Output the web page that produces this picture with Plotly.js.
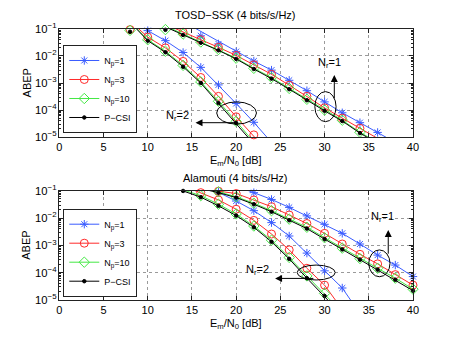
<!DOCTYPE html>
<html>
<head>
<meta charset="utf-8">
<script src="https://cdn.plot.ly/plotly-3.0.1.min.js"></script>
<style>
  body { margin: 0; background: #fff; }
  #myDiv { width: 457px; height: 344px; }
</style>
</head>
<body>
<div id="myDiv"></div>
<script>
// ABEP vs Em/N0 [dB].
// *_sx/*_sy = simulated points (markers), *_ax/*_ay = analytical curve (line)

// ---------- TOSD-SSK, Nr = 2 ----------
var tosd2_np1_sx = [10, 12, 14, 16, 18, 20, 22]
var tosd2_np1_sy = [8.7e-2, 3.7e-2, 1.35e-2, 3.8e-3, 8.5e-4, 1.74e-4, 3.5e-5]
var tosd2_np1_ax = [8, 10, 12, 14, 16, 18, 20, 22, 24]
var tosd2_np1_ay = [3.5e-1, 8.7e-2, 3.7e-2, 1.35e-2, 3.8e-3, 8.5e-4, 1.74e-4, 3.5e-5, 6.3e-6]
var tosd2_np3_sx = [8, 10, 12, 14, 16, 18, 20, 22]
var tosd2_np3_sy = [9.5e-2, 5.0e-2, 2.0e-2, 6.3e-3, 1.6e-3, 3.2e-4, 5.6e-5, 1.2e-5]
var tosd2_np3_ax = [8, 10, 12, 14, 16, 18, 20, 22, 24]
var tosd2_np3_ay = [2.0e-1, 5.0e-2, 2.0e-2, 6.3e-3, 1.6e-3, 3.2e-4, 5.6e-5, 1.2e-5, 2.0e-6]
var tosd2_np10_sx = [8, 10, 12, 14, 16, 18, 20]
var tosd2_np10_sy = [8.9e-2, 4.0e-2, 1.5e-2, 4.5e-3, 1.1e-3, 2.1e-4, 3.8e-5]
var tosd2_np10_ax = [8, 10, 12, 14, 16, 18, 20, 22]
var tosd2_np10_ay = [1.9e-1, 4.0e-2, 1.5e-2, 4.5e-3, 1.1e-3, 2.1e-4, 3.8e-5, 6.5e-6]
var tosd2_pcsi_sx = [8, 10, 12, 14, 16, 18, 20]
var tosd2_pcsi_sy = [7.9e-2, 3.7e-2, 1.38e-2, 4.0e-3, 1.0e-3, 1.8e-4, 3.3e-5]
var tosd2_pcsi_ax = [8, 10, 12, 14, 16, 18, 20, 22]
var tosd2_pcsi_ay = [1.8e-1, 3.7e-2, 1.38e-2, 4.0e-3, 1.0e-3, 1.8e-4, 3.3e-5, 5.5e-6]

// ---------- TOSD-SSK, Nr = 1 ----------
var tosd1_np1_sx = [16, 18, 20, 22, 24, 26, 28, 30, 32, 34, 36]
var tosd1_np1_sy = [5.6e-2, 2.8e-2, 1.45e-2, 6.5e-3, 3.0e-3, 1.26e-3, 5.2e-4, 2.0e-4, 7.9e-5, 3.4e-5, 1.48e-5]
var tosd1_np1_ax = [14, 16, 18, 20, 22, 24, 26, 28, 30, 32, 34, 36, 38]
var tosd1_np1_ay = [1.9e-1, 8.1e-2, 3.5e-2, 1.48e-2, 6.5e-3, 3.0e-3, 1.26e-3, 5.2e-4, 2.0e-4, 7.9e-5, 3.4e-5, 1.48e-5, 6.3e-6]
var tosd1_np3_sx = [14, 16, 18, 20, 22, 24, 26, 28, 30, 32, 34]
var tosd1_np3_sy = [7.6e-2, 4.0e-2, 2.1e-2, 1.05e-2, 4.7e-3, 2.1e-3, 8.3e-4, 3.2e-4, 1.2e-4, 5.0e-5, 2.1e-5]
var tosd1_np3_ax = [12, 14, 16, 18, 20, 22, 24, 26, 28, 30, 32, 34, 36]
var tosd1_np3_ay = [1.5e-1, 7.6e-2, 4.0e-2, 2.1e-2, 1.05e-2, 4.7e-3, 2.1e-3, 8.3e-4, 3.2e-4, 1.2e-4, 5.0e-5, 2.1e-5, 8.9e-6]
var tosd1_np10_sx = [12, 14, 16, 18, 20, 22, 24, 26, 28, 30, 32, 34]
var tosd1_np10_sy = [9.5e-2, 6.5e-2, 3.3e-2, 1.74e-2, 8.3e-3, 3.5e-3, 1.6e-3, 6.3e-4, 2.5e-4, 1.0e-4, 4.2e-5, 1.5e-5]
var tosd1_np10_ax = [12, 14, 16, 18, 20, 22, 24, 26, 28, 30, 32, 34, 36]
var tosd1_np10_ay = [1.3e-1, 6.5e-2, 3.3e-2, 1.74e-2, 8.3e-3, 3.5e-3, 1.6e-3, 6.3e-4, 2.5e-4, 1.0e-4, 4.2e-5, 1.5e-5, 6.3e-6]
var tosd1_pcsi_sx = [12, 14, 16, 18, 20, 22, 24, 26, 28, 30, 32, 34]
var tosd1_pcsi_sy = [9.3e-2, 6.0e-2, 3.1e-2, 1.62e-2, 7.8e-3, 3.3e-3, 1.45e-3, 5.9e-4, 2.3e-4, 9.3e-5, 3.9e-5, 1.4e-5]
var tosd1_pcsi_ax = [12, 14, 16, 18, 20, 22, 24, 26, 28, 30, 32, 34, 36]
var tosd1_pcsi_ay = [1.2e-1, 6.0e-2, 3.1e-2, 1.62e-2, 7.8e-3, 3.3e-3, 1.45e-3, 5.9e-4, 2.3e-4, 9.3e-5, 3.9e-5, 1.4e-5, 5.8e-6]

// ---------- Alamouti, Nr = 2 ----------
var ala2_np1_sx = [18, 20, 22, 24, 26, 28, 30, 32]
var ala2_np1_sy = [8.9e-2, 4.2e-2, 1.86e-2, 6.8e-3, 2.2e-3, 5.2e-4, 1.17e-4, 2.75e-5]
var ala2_np1_ax = [16, 18, 20, 22, 24, 26, 28, 30, 32, 34]
var ala2_np1_ay = [1.8e-1, 8.9e-2, 4.2e-2, 1.86e-2, 6.8e-3, 2.2e-3, 5.2e-4, 1.17e-4, 2.75e-5, 3.2e-6]
var ala2_np3_sx = [16, 18, 20, 22, 24, 26, 28, 30]
var ala2_np3_sy = [8.5e-2, 4.6e-2, 2.1e-2, 8.2e-3, 2.6e-3, 6.8e-4, 1.45e-4, 3.5e-5]
var ala2_np3_ax = [14, 16, 18, 20, 22, 24, 26, 28, 30, 32]
var ala2_np3_ay = [1.5e-1, 8.5e-2, 4.6e-2, 2.1e-2, 8.2e-3, 2.6e-3, 6.8e-4, 1.45e-4, 3.5e-5, 4.5e-6]
var ala2_np10_sx = [16, 18, 20, 22, 24, 26, 28, 30]
var ala2_np10_sy = [6.6e-2, 3.2e-2, 1.41e-2, 5.1e-3, 1.55e-3, 3.6e-4, 7.6e-5, 1.74e-5]
var ala2_np10_ax = [12, 14, 16, 18, 20, 22, 24, 26, 28, 30, 32]
var ala2_np10_ay = [2.0e-1, 1.07e-1, 6.6e-2, 3.2e-2, 1.41e-2, 5.1e-3, 1.55e-3, 3.6e-4, 7.6e-5, 1.74e-5, 3.5e-6]
var ala2_pcsi_sx = [14, 16, 18, 20, 22, 24, 26, 28, 30]
var ala2_pcsi_sy = [9.8e-2, 5.8e-2, 2.8e-2, 1.23e-2, 4.6e-3, 1.35e-3, 3.2e-4, 6.3e-5, 1.4e-5]
var ala2_pcsi_ax = [12, 14, 16, 18, 20, 22, 24, 26, 28, 30, 32]
var ala2_pcsi_ay = [1.9e-1, 9.8e-2, 5.8e-2, 2.8e-2, 1.23e-2, 4.6e-3, 1.35e-3, 3.2e-4, 6.3e-5, 1.4e-5, 2.8e-6]

// ---------- Alamouti, Nr = 1 ----------
var ala1_np1_sx = [22, 24, 26, 28, 30, 32, 34, 36, 38, 40]
var ala1_np1_sy = [8.5e-2, 4.8e-2, 2.45e-2, 1.2e-2, 5.9e-3, 2.75e-3, 1.12e-3, 4.4e-4, 1.9e-4, 7.2e-5]
var ala1_np1_ax = [20, 22, 24, 26, 28, 30, 32, 34, 36, 38, 40]
var ala1_np1_ay = [1.5e-1, 8.5e-2, 4.8e-2, 2.45e-2, 1.2e-2, 5.9e-3, 2.75e-3, 1.12e-3, 4.4e-4, 1.9e-4, 7.2e-5]
var ala1_np3_sx = [18, 20, 22, 24, 26, 28, 30, 32, 34, 36, 38, 40]
var ala1_np3_sy = [9.6e-2, 7.9e-2, 4.6e-2, 2.6e-2, 1.29e-2, 6.3e-3, 2.75e-3, 1.12e-3, 4.7e-4, 2.1e-4, 8.5e-5, 3.5e-5]
var ala1_np3_ax = [16, 18, 20, 22, 24, 26, 28, 30, 32, 34, 36, 38, 40]
var ala1_np3_ay = [1.3e-1, 9.6e-2, 7.9e-2, 4.6e-2, 2.6e-2, 1.29e-2, 6.3e-3, 2.75e-3, 1.12e-3, 4.7e-4, 2.1e-4, 8.5e-5, 3.5e-5]
var ala1_np10_sx = [18, 20, 22, 24, 26, 28, 30, 32, 34, 36, 38, 40]
var ala1_np10_sy = [9.1e-2, 6.0e-2, 3.5e-2, 1.86e-2, 9.1e-3, 4.6e-3, 1.9e-3, 7.9e-4, 3.3e-4, 1.45e-4, 6.3e-5, 2.5e-5]
var ala1_np10_ax = [16, 18, 20, 22, 24, 26, 28, 30, 32, 34, 36, 38, 40]
var ala1_np10_ay = [1.25e-1, 9.1e-2, 6.0e-2, 3.5e-2, 1.86e-2, 9.1e-3, 4.6e-3, 1.9e-3, 7.9e-4, 3.3e-4, 1.45e-4, 6.3e-5, 2.5e-5]
var ala1_pcsi_sx = [18, 20, 22, 24, 26, 28, 30, 32, 34, 36, 38, 40]
var ala1_pcsi_sy = [8.5e-2, 5.6e-2, 3.2e-2, 1.7e-2, 8.3e-3, 4.1e-3, 1.7e-3, 7.1e-4, 3.0e-4, 1.29e-4, 5.5e-5, 2.2e-5]
var ala1_pcsi_ax = [16, 18, 20, 22, 24, 26, 28, 30, 32, 34, 36, 38, 40]
var ala1_pcsi_ay = [1.2e-1, 8.5e-2, 5.6e-2, 3.2e-2, 1.7e-2, 8.3e-3, 4.1e-3, 1.7e-3, 7.1e-4, 3.0e-4, 1.29e-4, 5.5e-5, 2.2e-5]

var legend_names = ['N<sub>p</sub>=1', 'N<sub>p</sub>=3', 'N<sub>p</sub>=10', 'P\u2212CSI']
var titles = ['TOSD\u2212SSK (4 bits/s/Hz)', 'Alamouti (4 bits/s/Hz)']

// styles, one per series
var styles = [
    {color: '#3a5cff', symbol: 'asterisk-open', size: 7},
    {color: '#ff2a2a', symbol: 'circle-open', size: 8},
    {color: '#44e844', symbol: 'diamond-open', size: 8},
    {color: '#000000', symbol: 'circle', size: 3.5}
]

var FONT = 'Liberation Sans, Arial, Helvetica, sans-serif'
var data = []

function addCurve(ax, ay, sx, sy, k, xa, ya) {
    var s = styles[k]
    data.push({
        type: 'scatter', mode: 'lines', x: ax, y: ay,
        xaxis: xa, yaxis: ya, showlegend: false, hoverinfo: 'skip',
        line: {color: s.color, width: 1}
    })
    data.push({
        type: 'scatter', mode: 'markers', x: sx, y: sy,
        xaxis: xa, yaxis: ya, showlegend: false, cliponaxis: false,
        marker: {color: s.color, symbol: s.symbol, size: s.size,
                 line: {color: s.color, width: 1}}
    })
}

function addLegend(k, xa, ya, leg) {
    var s = styles[k]
    data.push({
        type: 'scatter', mode: 'lines+markers', x: [null], y: [null],
        xaxis: xa, yaxis: ya, name: legend_names[k], legend: leg,
        line: {color: s.color, width: 1},
        marker: {color: s.color, symbol: s.symbol, size: s.size,
                 line: {color: s.color, width: 1}}
    })
}

// top panel
addCurve(tosd2_np1_ax, tosd2_np1_ay, tosd2_np1_sx, tosd2_np1_sy, 0, 'x', 'y')
addCurve(tosd2_np3_ax, tosd2_np3_ay, tosd2_np3_sx, tosd2_np3_sy, 1, 'x', 'y')
addCurve(tosd2_np10_ax, tosd2_np10_ay, tosd2_np10_sx, tosd2_np10_sy, 2, 'x', 'y')
addCurve(tosd2_pcsi_ax, tosd2_pcsi_ay, tosd2_pcsi_sx, tosd2_pcsi_sy, 3, 'x', 'y')
addCurve(tosd1_np1_ax, tosd1_np1_ay, tosd1_np1_sx, tosd1_np1_sy, 0, 'x', 'y')
addCurve(tosd1_np3_ax, tosd1_np3_ay, tosd1_np3_sx, tosd1_np3_sy, 1, 'x', 'y')
addCurve(tosd1_np10_ax, tosd1_np10_ay, tosd1_np10_sx, tosd1_np10_sy, 2, 'x', 'y')
addCurve(tosd1_pcsi_ax, tosd1_pcsi_ay, tosd1_pcsi_sx, tosd1_pcsi_sy, 3, 'x', 'y')

// bottom panel
addCurve(ala2_np1_ax, ala2_np1_ay, ala2_np1_sx, ala2_np1_sy, 0, 'x2', 'y2')
addCurve(ala2_np3_ax, ala2_np3_ay, ala2_np3_sx, ala2_np3_sy, 1, 'x2', 'y2')
addCurve(ala2_np10_ax, ala2_np10_ay, ala2_np10_sx, ala2_np10_sy, 2, 'x2', 'y2')
addCurve(ala2_pcsi_ax, ala2_pcsi_ay, ala2_pcsi_sx, ala2_pcsi_sy, 3, 'x2', 'y2')
addCurve(ala1_np1_ax, ala1_np1_ay, ala1_np1_sx, ala1_np1_sy, 0, 'x2', 'y2')
addCurve(ala1_np3_ax, ala1_np3_ay, ala1_np3_sx, ala1_np3_sy, 1, 'x2', 'y2')
addCurve(ala1_np10_ax, ala1_np10_ay, ala1_np10_sx, ala1_np10_sy, 2, 'x2', 'y2')
addCurve(ala1_pcsi_ax, ala1_pcsi_ay, ala1_pcsi_sx, ala1_pcsi_sy, 3, 'x2', 'y2')

for (var k = 0; k < 4; k++) {
    addLegend(k, 'x', 'y', 'legend')
    addLegend(k, 'x2', 'y2', 'legend2')
}

var xdom = [0.1298, 0.9037]

function xAxis(anchor) {
    return {
        domain: xdom, anchor: anchor, range: [0, 40], dtick: 5,
        ticks: 'inside', ticklen: 4, tickcolor: '#222', mirror: 'ticks',
        showline: true, linecolor: '#222', linewidth: 1,
        showgrid: true, gridcolor: '#9a9a9a', griddash: 'dot', gridwidth: 1,
        zeroline: false, tickfont: {size: 11, color: '#000'}, automargin: false
    }
}
function yAxis(anchor, dom) {
    return {
        domain: dom, anchor: anchor, type: 'log', range: [-5, -1], dtick: 1,
        exponentformat: 'power',
        ticks: 'inside', ticklen: 4, tickcolor: '#222', mirror: 'ticks',
        minor: {ticks: 'inside', ticklen: 2, tickcolor: '#222', showgrid: false},
        showline: true, linecolor: '#222', linewidth: 1,
        showgrid: true, gridcolor: '#9a9a9a', griddash: 'dot', gridwidth: 1,
        zeroline: false, tickfont: {size: 9, color: '#000'}, automargin: false
    }
}

// legend boxes: bottom edge pinned where the reference box ends
var legendStyle = function (ybottom) {
    return {
        x: 0.1385, y: ybottom, xanchor: 'left', yanchor: 'bottom',
        bgcolor: '#fff', bordercolor: '#222', borderwidth: 1,
        font: {size: 9, family: FONT}, tracegroupgap: 0, itemwidth: 30
    }
}

function label(text, x, y, xref, yref, size, angle) {
    return {text: text, x: x, y: y, xref: xref, yref: yref, showarrow: false,
            font: {size: size, family: FONT, color: '#000'},
            xanchor: 'center', yanchor: 'middle', textangle: angle || 0}
}
function arrow(x, y, ax, ay, xref, yref) {
    return {text: '', x: x, y: y, ax: ax, ay: ay, xref: xref, yref: yref,
            axref: xref, ayref: yref, showarrow: true, arrowhead: 2,
            arrowsize: 1.4, arrowwidth: 1, arrowcolor: '#000'}
}
function ring(x0, x1, y0, y1, xref, yref) {
    return {type: 'circle', xref: xref, yref: yref, x0: x0, x1: x1, y0: y0, y1: y1,
            line: {color: '#000', width: 1}}
}

var layout = {
    width: 457, height: 344,
    margin: {l: 0, r: 0, t: 0, b: 0},
    paper_bgcolor: '#fff', plot_bgcolor: '#fff',
    font: {family: FONT, size: 11, color: '#000'},
    xaxis: xAxis('y'),
    yaxis: yAxis('x', [0.6017, 0.9157]),
    xaxis2: xAxis('y2'),
    yaxis2: yAxis('x2', [0.1279, 0.4456]),
    legend: legendStyle(0.6134),
    legend2: legendStyle(0.1375),
    shapes: [
        ring(17.8, 22.3, 3.0e-5, 2.0e-4, 'x', 'y'),
        ring(28.9, 31.3, 3.7e-5, 4.8e-4, 'x', 'y'),
        ring(26.9, 31.2, 5.4e-5, 1.9e-4, 'x2', 'y2'),
        ring(35.0, 37.4, 7.1e-5, 6.8e-4, 'x2', 'y2')
    ],
    annotations: [
        label(titles[0], 0.5164, 0.956, 'paper', 'paper', 11),
        label(titles[1], 0.5164, 0.4834, 'paper', 'paper', 11),
        label('E<sub>m</sub>/N<sub>0</sub> [dB]', 0.5164, 0.532, 'paper', 'paper', 11),
        label('E<sub>m</sub>/N<sub>0</sub> [dB]', 0.5164, 0.057, 'paper', 'paper', 11),
        label('ABEP', 0.058, 0.759, 'paper', 'paper', 11, -90),
        label('ABEP', 0.058, 0.287, 'paper', 'paper', 11, -90),
        // Nr markers (annotation y on log axes is log10)
        arrow(15.4, -4.47, 20.0, -4.47, 'x', 'y'),
        label('N<sub>r</sub>=2', 13.4, -4.22, 'x', 'y', 11),
        arrow(31.1, -2.7, 31.1, -3.62, 'x', 'y'),
        label('N<sub>r</sub>=1', 30.6, -2.25, 'x', 'y', 11),
        arrow(24.4, -4.21, 28.9, -4.21, 'x2', 'y2'),
        label('N<sub>r</sub>=2', 22.4, -3.92, 'x2', 'y2', 11),
        arrow(37.2, -2.44, 37.2, -3.36, 'x2', 'y2'),
        label('N<sub>r</sub>=1', 36.6, -1.97, 'x2', 'y2', 11)
    ]
}

Plotly.newPlot('myDiv', data, layout, {displayModeBar: false, responsive: false});
</script>
</body>
</html>
